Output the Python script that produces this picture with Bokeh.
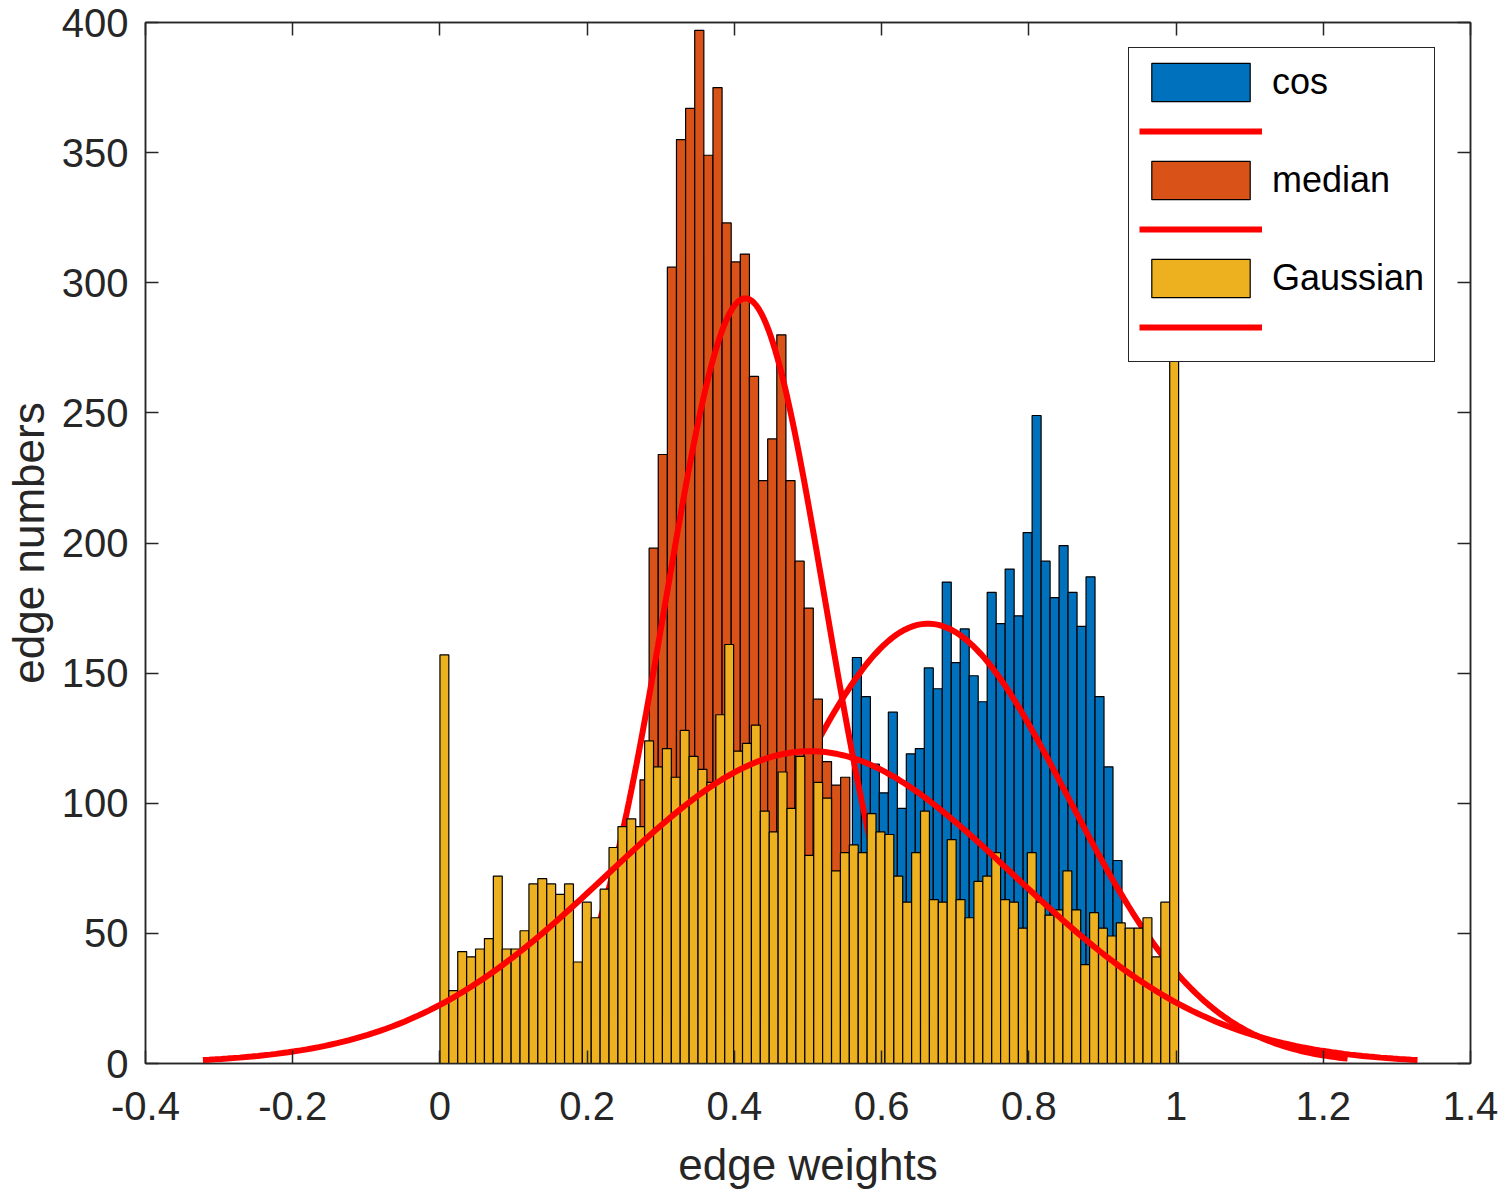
import numpy as np
from bokeh.plotting import figure
from bokeh.models import (Range1d, LinearAxis, FixedTicker, Legend, LegendItem,
                          CustomJSTickFormatter)
from bokeh.embed import file_html
from bokeh.resources import INLINE

# ---------------- data ----------------
series_names = ["cos", "median", "Gaussian"]

cos_bin_start = 0.5115
cos_bin_width = 0.012207
cos_counts = [10, 25, 45, 70, 156, 141, 115, 104, 135, 98, 119, 121, 152, 144, 185,
              154, 167, 149, 139, 181, 169, 190, 172, 204, 249, 193, 179, 199, 181,
              168, 187, 141, 114, 78, 40, 15]

median_bin_start = 0.2346
median_bin_width = 0.01239
median_counts = [15, 40, 75, 109, 198, 234, 306, 355, 367, 397, 349, 375, 323, 308,
                 311, 264, 224, 240, 280, 224, 193, 175, 140, 116, 107, 110, 60, 30, 10]

gauss_bin_start = 0.0
gauss_bin_width = 0.01209
gauss_counts = [157, 28, 43, 41, 44, 48, 72, 44, 44, 51, 69, 71, 69, 65, 69, 39, 62, 56,
                67, 83, 91, 94, 91, 124, 114, 121, 110, 128, 118, 113, 108, 134, 161, 120,
                123, 130, 97, 89, 112, 98, 118, 80, 108, 102, 74, 81, 84, 81, 96, 89, 88,
                72, 62, 81, 97, 63, 62, 86, 63, 56, 70, 72, 81, 63, 62, 52, 81, 62, 57,
                59, 74, 59, 38, 58, 52, 49, 54, 52, 52, 56, 41, 62, 330]

# normal fits (histfit): mean, std, peak height
fit_mu = [0.663, 0.415, 0.503]
fit_sigma = [0.19, 0.108, 0.275]
fit_peak = [169, 294, 120]

x_ticks = [-0.4, -0.2, 0.0, 0.2, 0.4, 0.6, 0.8, 1.0, 1.2, 1.4]
x_tick_labels = ["-0.4", "-0.2", "0", "0.2", "0.4", "0.6", "0.8", "1", "1.2", "1.4"]
y_ticks = [0, 50, 100, 150, 200, 250, 300, 350, 400]
y_tick_labels = ["0", "50", "100", "150", "200", "250", "300", "350", "400"]

x_label = "edge weights"
y_label = "edge numbers"

colors = ["#0072BD", "#D95319", "#EDB120"]
fit_color = "#FF0000"
axis_color = "#262626"
FONT = "Liberation Sans"

# ---------------- figure ----------------
p = figure(width=1500, height=1193, x_range=Range1d(-0.4, 1.4), y_range=Range1d(0, 400),
           output_backend="svg", toolbar_location=None,
           min_border_left=143, min_border_right=30, min_border_top=22,
           min_border_bottom=130, background_fill_color="white",
           border_fill_color="white")
p.xgrid.visible = False
p.ygrid.visible = False
p.outline_line_color = axis_color
p.outline_line_width = 1.5


def hist_edges(start, width, n):
    left = np.array([start + i * width for i in range(n)])
    return left, left + width


def fit_curve(mu, sigma, peak):
    xs = np.linspace(mu - 3 * sigma, mu + 3 * sigma, 200)
    ys = peak * np.exp(-(xs - mu) ** 2 / (2 * sigma ** 2))
    return xs, ys


hists = [(cos_bin_start, cos_bin_width, cos_counts),
         (median_bin_start, median_bin_width, median_counts),
         (gauss_bin_start, gauss_bin_width, gauss_counts)]

legend_items = []
for k, (start, width, counts) in enumerate(hists):
    left, right = hist_edges(start, width, len(counts))
    r_bar = p.quad(left=left, right=right, top=counts, bottom=0,
                   fill_color=colors[k], line_color="black", line_width=1.2)
    xs, ys = fit_curve(fit_mu[k], fit_sigma[k], fit_peak[k])
    r_fit = p.line(xs, ys, line_color=fit_color, line_width=6)
    legend_items.append(LegendItem(label=series_names[k], renderers=[r_bar]))
    legend_items.append(LegendItem(label="", renderers=[r_fit]))

# ---------------- axes ----------------
for ax in (p.xaxis[0], p.yaxis[0]):
    ax.axis_line_color = axis_color
    ax.axis_line_width = 1.5
    ax.major_tick_line_color = axis_color
    ax.major_tick_line_width = 1.5
    ax.major_tick_in = 13
    ax.major_tick_out = 0
    ax.minor_tick_line_color = None
    ax.major_label_text_font = FONT
    ax.major_label_text_font_size = "40px"
    ax.major_label_text_color = axis_color
    ax.axis_label_text_font = FONT
    ax.axis_label_text_font_size = "44px"
    ax.axis_label_text_font_style = "normal"
    ax.axis_label_text_color = axis_color

p.xaxis[0].ticker = FixedTicker(ticks=x_ticks)
p.xaxis[0].major_label_overrides = dict(zip(x_ticks, x_tick_labels))
p.xaxis[0].axis_label = x_label
p.xaxis[0].major_label_standoff = 28
p.xaxis[0].axis_label_standoff = 17

p.yaxis[0].ticker = FixedTicker(ticks=y_ticks)
p.yaxis[0].major_label_overrides = dict(zip(y_ticks, y_tick_labels))
p.yaxis[0].axis_label = y_label
p.yaxis[0].major_label_standoff = 17
p.yaxis[0].axis_label_standoff = 6
p.yaxis[0].axis_label_text_line_height = 0.8

blank = CustomJSTickFormatter(code="return ''")
top_axis = LinearAxis(ticker=FixedTicker(ticks=x_ticks), formatter=blank)
right_axis = LinearAxis(ticker=FixedTicker(ticks=y_ticks), formatter=blank)
for ax in (top_axis, right_axis):
    ax.axis_line_color = axis_color
    ax.axis_line_width = 1.5
    ax.major_tick_line_color = axis_color
    ax.major_tick_line_width = 1.5
    ax.major_tick_in = 13
    ax.major_tick_out = 0
    ax.minor_tick_line_color = None
    ax.major_label_text_font_size = "1px"
    ax.major_label_standoff = 0
p.add_layout(top_axis, "above")
p.add_layout(right_axis, "right")

# ---------------- legend ----------------
legend = Legend(items=legend_items, location=(983, 701),
                padding=10, spacing=1, glyph_height=48, glyph_width=123,
                label_standoff=10, label_text_font=FONT, label_text_font_size="36px",
                label_text_color="black", border_line_color=axis_color,
                border_line_width=1.5, border_line_alpha=1.0,
                background_fill_color="white", background_fill_alpha=1.0)
p.add_layout(legend)

open("out.html", "w").write(file_html(p, INLINE))
